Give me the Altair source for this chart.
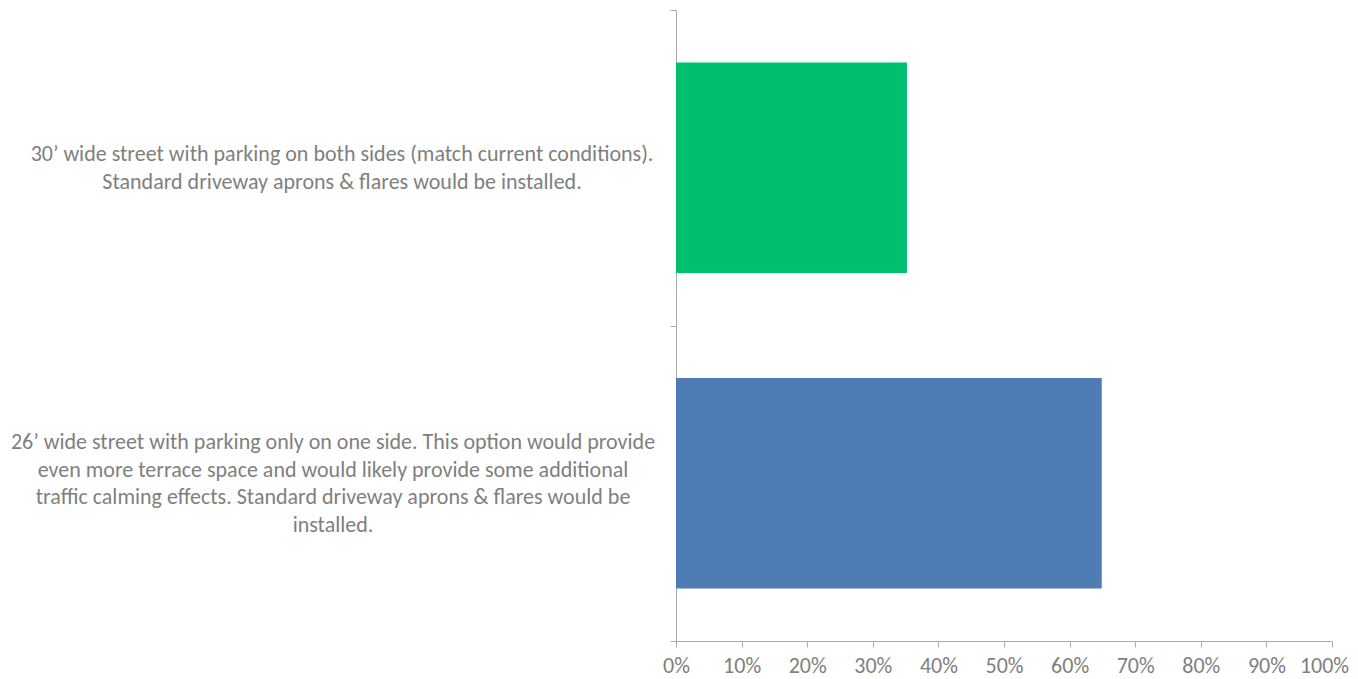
import altair as alt
import pandas as pd

categories = [
    "30\u2019 wide street with parking on both sides (match current conditions).\nStandard driveway aprons & flares would be installed.",
    "26\u2019 wide street with parking only on one side. This option would provide\neven more terrace space and would likely provide some additional\ntraffic calming effects. Standard driveway aprons & flares would be\ninstalled.",
]
values = [0.352, 0.649]
colors = ["#00BF6F", "#507CB6"]
x_ticks = [0, 0.1, 0.2, 0.3, 0.4, 0.5, 0.6, 0.7, 0.8, 0.9, 1.0]

df = pd.DataFrame({"cat": categories, "val": values, "color": colors})

FONT = "Carlito, Lato, Liberation Sans, sans-serif"
TXT = "#7f7f7f"
AX = "#aaaaaa"
LH = 27.5

y_enc = alt.Y(
    "cat:N",
    sort=categories,
    scale=alt.Scale(paddingInner=0, paddingOuter=0),
    axis=alt.Axis(
        title=None, labels=False, tickBand="extent", domainColor=AX,
        tickColor=AX, tickSize=6, grid=False,
    ),
)

bars = alt.Chart(df).mark_bar(height={"band": 2 / 3}).encode(
    y=y_enc,
    x=alt.X(
        "val:Q",
        scale=alt.Scale(domain=[0, 1]),
        axis=alt.Axis(
            title=None, values=x_ticks, format=".0%", grid=False,
            domainColor=AX, tickColor=AX, tickSize=6, labelPadding=8,
            labelFlush=False, labelOverlap=False,
            labelOffset={"condition": {"test": "datum.value >= 1", "value": -8}, "value": 0},
            labelFont=FONT, labelFontSize=22, labelColor=TXT,
        ),
    ),
    color=alt.Color("color:N", scale=None),
)

label_layers = []
for cat, xpos in zip(categories, [-334, -343]):
    n_lines = cat.count("\n") + 1
    label_layers.append(
        alt.Chart(df).transform_filter(alt.datum.cat == cat).mark_text(
            align="center", baseline="middle", lineBreak="\n", lineHeight=LH,
            font=FONT, fontSize=22, color=TXT, dy=-(n_lines - 1) * LH / 2,
        ).encode(
            y=alt.Y("cat:N", sort=categories),
            x=alt.value(xpos),
            text="cat:N",
        )
    )

chart = alt.layer(bars, *label_layers).properties(
    width=656, height=631,
    autosize=alt.AutoSizeParams(type="none"),
    padding={"left": 668, "top": 2, "right": 17, "bottom": 37},
).configure_view(stroke=None)

chart.save("out.html", embed_options={"renderer": "svg", "actions": False})
